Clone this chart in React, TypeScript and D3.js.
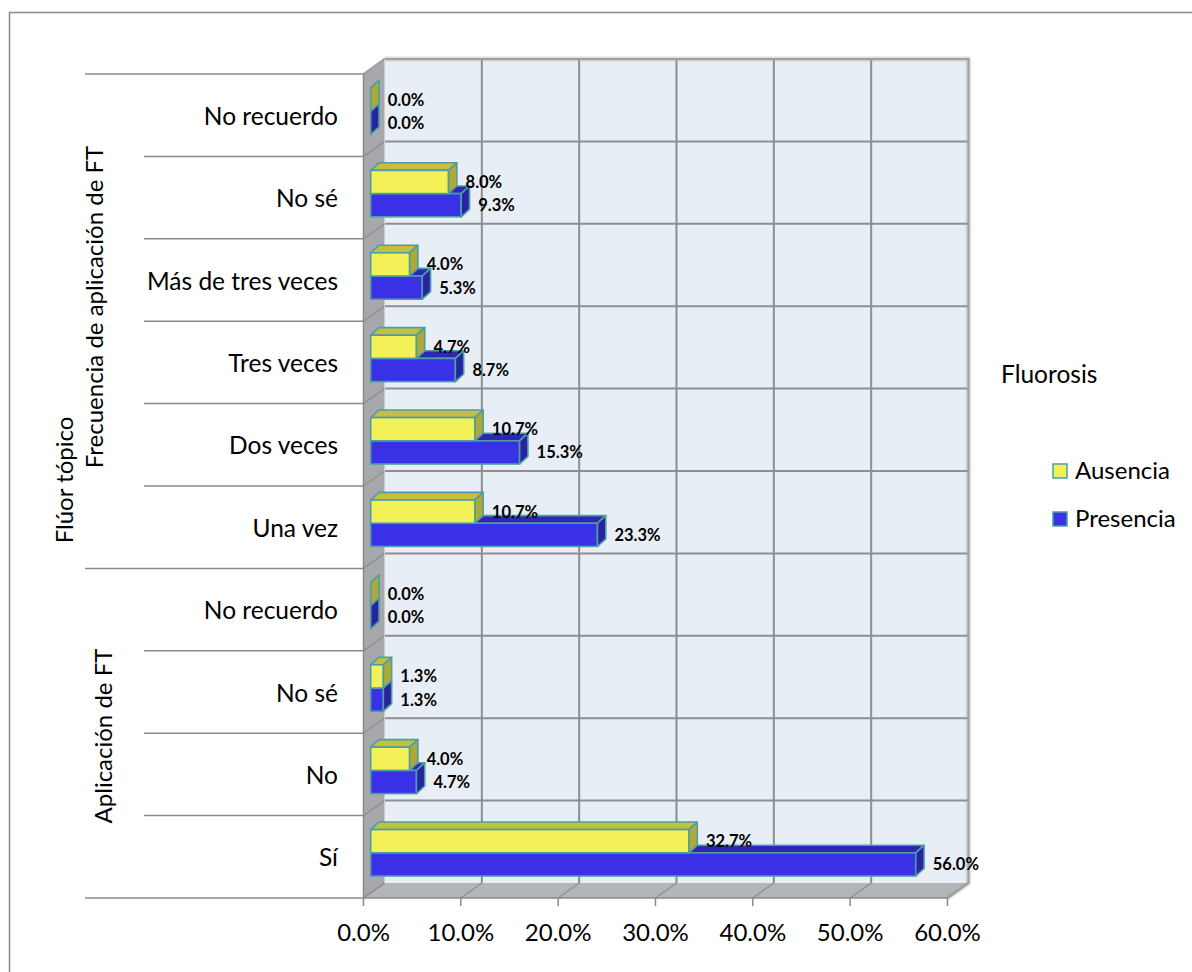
import React from "react";
import * as d3 from "d3";

// ---- data ----
const groupNames = ["Frecuencia de aplicación de FT", "Aplicación de FT"];
const categories = [
  "No recuerdo",
  "No sé",
  "Más de tres veces",
  "Tres veces",
  "Dos veces",
  "Una vez",
  "No recuerdo",
  "No sé",
  "No",
  "Sí",
];
const categoryGroup = [0, 0, 0, 0, 0, 0, 1, 1, 1, 1];
const ausencia = [0.0, 8.0, 4.0, 4.7, 10.7, 10.7, 0.0, 1.3, 4.0, 32.7];
const presencia = [0.0, 9.3, 5.3, 8.7, 15.3, 23.3, 0.0, 1.3, 4.7, 56.0];
const xTicks = [0, 10, 20, 30, 40, 50, 60];
const seriesNames = ["Ausencia", "Presencia"];
const outerTitle = "Flúor tópico";
const legendTitle = "Fluorosis";

// ---- layout ----
const W = 1192;
const H = 972;
const FX0 = 363.5; // front plane, 0 %
const FX1 = 947.5; // front plane, 60 %
const TOP = 74;
const BOT = 898;
const DX = 21; // wall depth offset
const DY = 15;
const BAR_OX = 7.2; // bar front face offset inside the depth
const BAR_OY = 4;
const BAR_DX = 8.3; // bar depth
const BAR_DY = 7.6;
const BAR_H = 23.2;

const FONT = "Lato, 'Open Sans', sans-serif";

const colors = {
  yellow: { front: "#f2f158", top: "#c6bf3d", side: "#aea836" },
  blue: { front: "#3a30e6", top: "#2e27b4", side: "#2a22a0" },
  edge: "#4c9ea6",
  wall: "#e8eef5",
  sideWall: "#a6a8ab",
  floor: "#b3b5b8",
  grid: "#8e8e8e",
  axisLine: "#8a8a8a",
};

export default function App() {
  const x = d3.scaleLinear().domain([0, 60]).range([FX0, FX1]);
  const y = d3
    .scaleBand<string>()
    .domain(categories.map((_, i) => String(i)))
    .range([TOP, BOT])
    .paddingInner(0)
    .paddingOuter(0);
  const bw = y.bandwidth();
  const fmt = (v: number) => d3.format(".1f")(v) + "%";

  const boundaries = d3.range(categories.length + 1).map((i) => TOP + i * bw);

  const barShapes = (v: number, yt: number, c: { front: string; top: string; side: string }) => {
    const x0 = FX0 + BAR_OX;
    const x1 = x0 + (x(v) - x(0));
    const yb = yt + BAR_H;
    const topFace = [
      [x0, yt],
      [x1, yt],
      [x1 + BAR_DX, yt - BAR_DY],
      [x0 + BAR_DX, yt - BAR_DY],
    ];
    const sideFace = [
      [x1, yt],
      [x1, yb],
      [x1 + BAR_DX, yb - BAR_DY],
      [x1 + BAR_DX, yt - BAR_DY],
    ];
    const pts = (p: number[][]) => p.map((q) => q.join(",")).join(" ");
    return (
      <g>
        <polygon points={pts(topFace)} fill={c.top} stroke={colors.edge} strokeWidth={1.6} strokeLinejoin="round" />
        <rect x={x0} y={yt} width={Math.max(0, x1 - x0)} height={BAR_H} fill={c.front} stroke={colors.edge} strokeWidth={1.6} />
        <polygon points={pts(sideFace)} fill={c.side} stroke={colors.edge} strokeWidth={1.6} strokeLinejoin="round" />
      </g>
    );
  };

  const groupLabelPos = [
    { x: 103, y: 307 },
    { x: 112, y: 736 },
  ];

  return (
    <svg
      width={W}
      height={H}
      style={{ position: "absolute", left: 0, top: 0, background: "#fff" }}
      fontFamily={FONT}
    >
      <defs>
        <filter id="soft" x="-5%" y="-5%" width="110%" height="110%">
          <feGaussianBlur stdDeviation="1.2" />
        </filter>
      </defs>

      {/* outer frame */}
      <path d={`M9.5,${H} V12.5 H${W}`} fill="none" stroke="#8a8a8a" strokeWidth={1.5} />

      {/* back wall */}
      <rect x={FX0 + DX} y={TOP - DY} width={FX1 - FX0} height={BOT - TOP} fill={colors.wall} />
      {/* side wall */}
      <polygon
        points={`${FX0},${TOP} ${FX0 + DX},${TOP - DY} ${FX0 + DX},${BOT - DY} ${FX0},${BOT}`}
        fill={colors.sideWall}
      />
      {/* floor */}
      <polygon
        points={`${FX0},${BOT} ${FX1},${BOT} ${FX1 + DX},${BOT - DY} ${FX0 + DX},${BOT - DY}`}
        fill={colors.floor}
      />

      {/* back wall gridlines */}
      {xTicks.slice(1, -1).map((t) => (
        <line key={"gv" + t} x1={x(t) + DX} x2={x(t) + DX} y1={TOP - DY} y2={BOT - DY} stroke={colors.grid} strokeWidth={2} />
      ))}
      {boundaries.slice(1, -1).map((b, i) => (
        <line key={"gh" + i} x1={FX0 + DX} x2={FX1 + DX} y1={b - DY} y2={b - DY} stroke={colors.grid} strokeWidth={2} />
      ))}
      {/* side wall lines */}
      {boundaries.map((b, i) => (
        <line key={"sw" + i} x1={FX0} y1={b} x2={FX0 + DX} y2={b - DY} stroke="#8f9194" strokeWidth={1.5} />
      ))}
      {/* floor lines */}
      {xTicks.map((t) => (
        <line key={"fl" + t} x1={x(t)} y1={BOT} x2={x(t) + DX} y2={BOT - DY} stroke="#8f9194" strokeWidth={1.5} />
      ))}

      {/* wall edges with a soft shadow */}
      <g filter="url(#soft)" opacity={0.6}>
        <path
          d={`M${FX0 + DX},${TOP - DY} H${FX1 + DX} V${BOT - DY} L${FX1},${BOT}`}
          fill="none"
          stroke="#9a9a9a"
          strokeWidth={3.5}
        />
      </g>
      <path
        d={`M${FX0},${TOP} L${FX0 + DX},${TOP - DY} H${FX1 + DX} V${BOT - DY} L${FX1},${BOT}`}
        fill="none"
        stroke="#a0a0a0"
        strokeWidth={2}
      />
      <line x1={FX0 + DX} x2={FX0 + DX} y1={TOP - DY} y2={BOT - DY} stroke="#c9cbce" strokeWidth={1} />
      <line x1={FX0} x2={FX0} y1={TOP} y2={BOT} stroke={colors.axisLine} strokeWidth={1.5} />
      <line x1={FX0} x2={FX1} y1={BOT} y2={BOT} stroke={colors.axisLine} strokeWidth={1.5} />

      {/* bars: Presencia below, Ausencia above */}
      {categories.map((_, i) => {
        const yc = (y(String(i)) as number) + bw / 2 - BAR_OY;
        return (
          <g key={"bar" + i}>
            {barShapes(presencia[i], yc, colors.blue)}
            {barShapes(ausencia[i], yc - BAR_H, colors.yellow)}
          </g>
        );
      })}

      {/* value labels */}
      {categories.map((_, i) => {
        const yc = (y(String(i)) as number) + bw / 2 - BAR_OY;
        const x0 = FX0 + BAR_OX;
        return (
          <g key={"lab" + i} fontSize={16.5} fontWeight={700} fill="#000">
            <text x={x0 + (x(ausencia[i]) - x(0)) + 17} y={yc - BAR_H / 2 + 6}>
              {fmt(ausencia[i])}
            </text>
            <text x={x0 + (x(presencia[i]) - x(0)) + 17} y={yc + BAR_H / 2 + 6}>
              {fmt(presencia[i])}
            </text>
          </g>
        );
      })}

      {/* x axis ticks and labels */}
      {xTicks.map((t) => (
        <g key={"xt" + t}>
          <line x1={x(t)} x2={x(t)} y1={BOT} y2={BOT + 8} stroke={colors.axisLine} strokeWidth={1.5} />
          <text x={x(t)} y={941} textAnchor="middle" fontSize={24} fill="#000">
            {fmt(t)}
          </text>
        </g>
      ))}

      {/* category axis: separators */}
      {boundaries.map((b, i) => {
        const isGroupEdge =
          i === 0 || i === categories.length || categoryGroup[i] !== categoryGroup[i - 1];
        return (
          <line
            key={"sep" + i}
            x1={isGroupEdge ? 85 : 144}
            x2={FX0}
            y1={b}
            y2={b}
            stroke={colors.axisLine}
            strokeWidth={1.5}
          />
        );
      })}
      {categories.map((c, i) => (
        <text
          key={"cat" + i}
          x={338}
          y={(y(String(i)) as number) + bw / 2 + 9.5}
          textAnchor="end"
          fontSize={24.5}
          fill="#000"
        >
          {c}
        </text>
      ))}
      {groupNames.map((g, k) => (
        <text
          key={"grp" + k}
          transform={`translate(${groupLabelPos[k].x},${groupLabelPos[k].y}) rotate(-90)`}
          textAnchor="middle"
          fontSize={24}
          fill="#000"
        >
          {g}
        </text>
      ))}
      <text
        transform={`translate(73,${(TOP + BOT) / 2 - 6}) rotate(-90)`}
        textAnchor="middle"
        fontSize={24}
        fill="#000"
      >
        {outerTitle}
      </text>

      {/* legend */}
      <text x={1001} y={383} fontSize={24.5} fill="#000">
        {legendTitle}
      </text>
      {seriesNames.map((s, k) => {
        const c = k === 0 ? colors.yellow.front : colors.blue.front;
        const ly = 464 + k * 48;
        return (
          <g key={"lg" + k}>
            <rect x={1053} y={ly} width={14} height={14} fill={c} stroke={colors.edge} strokeWidth={1.5} />
            <text x={1075} y={ly + 15} fontSize={24} fill="#000">
              {s}
            </text>
          </g>
        );
      })}
    </svg>
  );
}
